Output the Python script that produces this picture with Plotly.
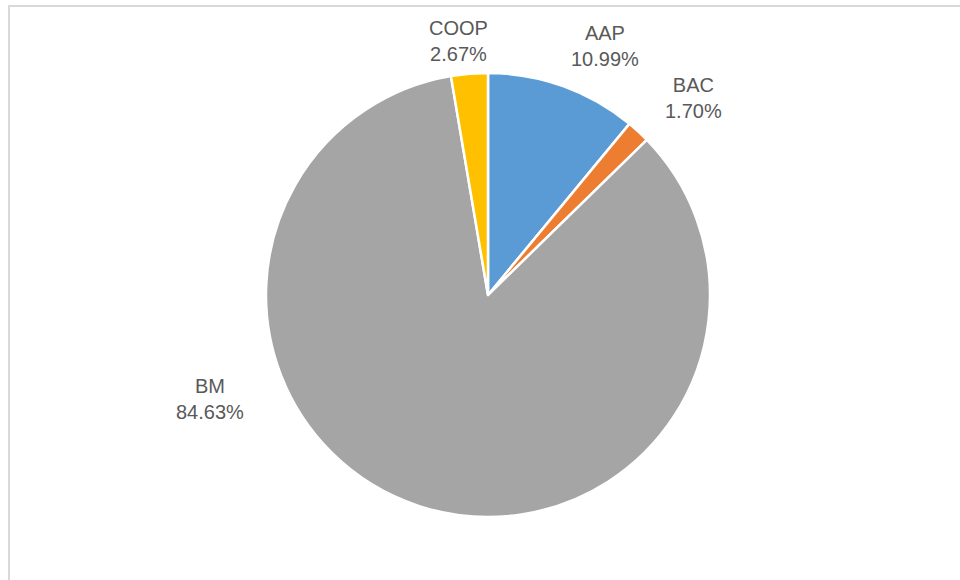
import plotly.graph_objects as go

labels = ["AAP", "BAC", "BM", "COOP"]
values = [10.99, 1.70, 84.63, 2.67]
pct_text = ["10.99%", "1.70%", "84.63%", "2.67%"]
colors = ["#5B9BD5", "#ED7D31", "#A5A5A5", "#FFC000"]

W, H = 960, 580
cx, cy, r = 488, 295, 222

fig = go.Figure(go.Pie(
    labels=labels, values=values, sort=False, direction="clockwise", rotation=0,
    marker=dict(colors=colors, line=dict(color="white", width=2.5)),
    textinfo="none", hoverinfo="label+percent", showlegend=False,
    domain=dict(x=[(cx - r) / W, (cx + r) / W], y=[1 - (cy + r) / H, 1 - (cy - r) / H]),
))

# label centres (pixels)
label_pos = {"COOP": (458, 41), "AAP": (605, 46), "BAC": (693, 98), "BM": (210, 399)}
for lab, pt in zip(labels, pct_text):
    px, py = label_pos[lab]
    fig.add_annotation(
        x=px / W, y=1 - py / H, xref="paper", yref="paper", showarrow=False,
        text=f"{lab}<br>{pt}", align="center",
        font=dict(family="Liberation Sans, Arial", size=20, color="#595959"),
        xanchor="center", yanchor="middle",
    )

fig.add_shape(type="rect", xref="paper", yref="paper",
              x0=9 / W, y0=-0.02, x1=1.02, y1=1 - 6 / H,
              line=dict(color="#D9D9D9", width=2), fillcolor="rgba(0,0,0,0)")

fig.update_layout(width=W, height=H, margin=dict(l=0, r=0, t=0, b=0),
                  paper_bgcolor="white", plot_bgcolor="white")
fig.write_html("out.html", config={"displayModeBar": False},
               post_script="document.body.style.margin='0';")
